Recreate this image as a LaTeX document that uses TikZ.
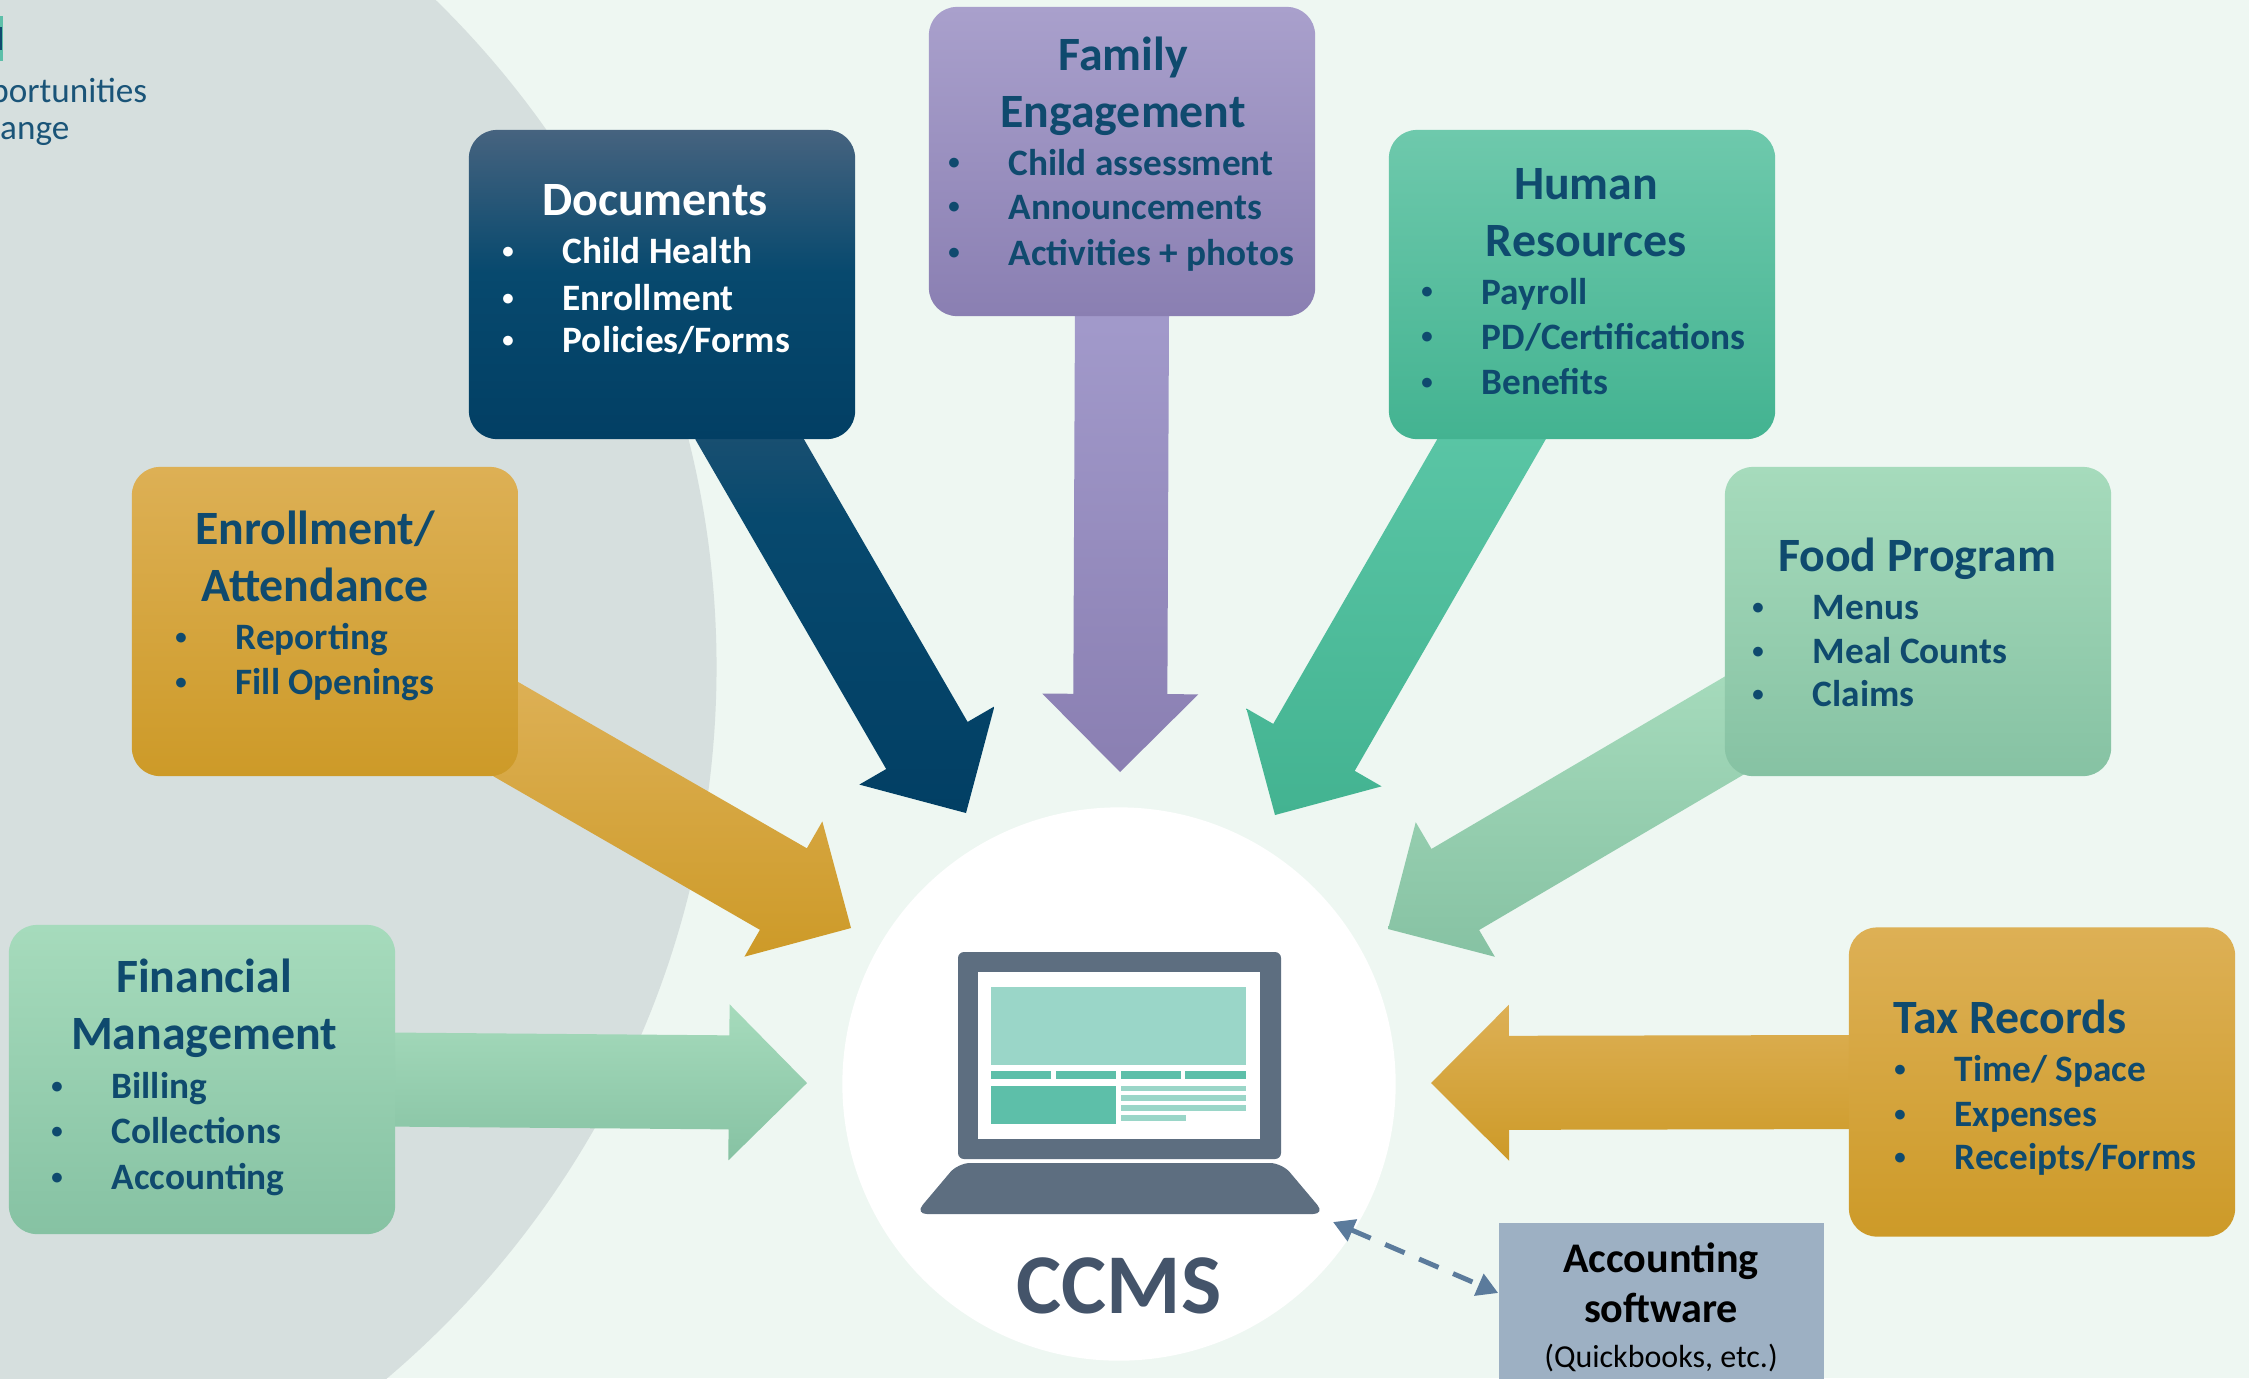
\documentclass[tikz,border=0pt]{standalone}
\usepackage{fontspec}
\setmainfont{Carlito}
\usetikzlibrary{calc,backgrounds,arrows.meta}

\definecolor{pagegreen}{HTML}{EEF7F2}
\definecolor{bigcircle}{HTML}{D6DFDE}
\definecolor{ink}{HTML}{0F4A6E}
\definecolor{logoink}{HTML}{1A5478}
\definecolor{laptop}{HTML}{5D6E80}
\definecolor{pale}{HTML}{9AD6C8}
\definecolor{teal}{HTML}{5DBFA9}
\definecolor{ccmsink}{HTML}{44546A}
\definecolor{acctfill}{HTML}{9DB0C3}
\definecolor{acctline}{HTML}{5B7B9C}
\definecolor{docstop}{HTML}{46637F}
\definecolor{docsmid}{HTML}{07496E}
\definecolor{docsbot}{HTML}{023F64}
\definecolor{docsarrowtop}{HTML}{225272}
\definecolor{familytop}{HTML}{A9A0CC}
\definecolor{familymid}{HTML}{9A90C4}
\definecolor{familybot}{HTML}{8A7FB2}
\definecolor{familyarrowtop}{HTML}{A29ACB}
\definecolor{humantop}{HTML}{6EC9AC}
\definecolor{humanmid}{HTML}{4FC3A0}
\definecolor{humanbot}{HTML}{43B391}
\definecolor{humanarrowtop}{HTML}{5CC7A7}
\definecolor{foodtop}{HTML}{A6DBBC}
\definecolor{foodmid}{HTML}{9AD3B2}
\definecolor{foodbot}{HTML}{86C2A3}
\definecolor{goldtop}{HTML}{DDB055}
\definecolor{goldmid}{HTML}{DFAB38}
\definecolor{goldbot}{HTML}{CD9A28}

% 25bp is the bottom of the shaded path, 75bp its top
\pgfdeclareverticalshading{docsbox}{100bp}{color(0bp)=(docsbot); color(25bp)=(docsbot); color(52bp)=(docsmid); color(75bp)=(docstop); color(100bp)=(docstop)}
\pgfdeclareverticalshading{docsarrow}{100bp}{color(0bp)=(docsbot); color(25bp)=(docsbot); color(60bp)=(docsmid); color(75bp)=(docsarrowtop); color(100bp)=(docsarrowtop)}

% block arrow from a tail to a tip, shaded by the style in #3
\newcommand{\blockarrow}[3]{%
  \coordinate (neck) at ($(#2)!.78cm!(#1)$);
  \path[#3] ($(#1)!.47cm!90:(#2)$) -- ($(neck)!.47cm!90:(#2)$) -- ($(neck)!.78cm!90:(#2)$)
    -- (#2) -- ($(neck)!.78cm!-90:(#2)$) -- ($(neck)!.47cm!-90:(#2)$) -- ($(#1)!.47cm!-90:(#2)$) -- cycle;
}
% one bulleted line of a box
\newcommand{\bulletline}[5][ink]{%
  \node[dotmark, text=#1] (#2dot) at (#3,#4) {\raisebox{1.45pt}{•}};
  \node[itemtext, text=#1] (#2) at ($(#2dot.base)+(54,0)$) {#5};
}

\begin{document}
\begin{tikzpicture}[
x=0.01cm, y=-0.01cm,
box/.style={rectangle, rounded corners=0.28cm, minimum width=3.86cm, minimum height=3.09cm, inner sep=0pt},
docsfill/.style={shading=docsbox},
familyfill/.style={top color=familytop, middle color=familymid, bottom color=familybot},
humanfill/.style={top color=humantop, middle color=humanmid, bottom color=humanbot},
foodfill/.style={top color=foodtop, middle color=foodmid, bottom color=foodbot},
goldfill/.style={top color=goldtop, middle color=goldmid, bottom color=goldbot},
title/.style={font=\fontsize{13.6}{16.2}\selectfont\bfseries, text=ink, anchor=base, align=center, inner sep=0pt, yshift=-0.015cm},
itemtext/.style={font=\fontsize{10.6}{13}\selectfont\bfseries, anchor=base west, inner sep=0pt},
dotmark/.style={font=\fontsize{6.5}{8}\selectfont\bfseries, anchor=base, inner sep=0pt, yshift=-0.015cm},
logotext/.style={font=\fontsize{10}{12}\selectfont, text=logoink, anchor=base east, inner sep=0pt},
]
\useasboundingbox (0,0) rectangle (2249,1378);

%Backdrop
\begin{scope}[on background layer]
\clip (0,0) rectangle (2249,1378);
\fill[pagegreen] (0,0) rectangle (2249,1378);
\fill[bigcircle] (-216,667) circle (9.32cm);
\node[circle, fill=white, minimum size=5.53cm, inner sep=0pt] (ccms) at (1119,1084) {};
\end{scope}

%Logo
\begin{scope}
\clip (0,0) rectangle (2249,1378);
\fill[teal] (0,16) rectangle (3,61);
\fill[ink] (0,27) rectangle (2,50);
\node[logotext] (logoa) at (148,102) {pportunities};
\node[logotext] (logob) at (70,139) {hange};
\end{scope}

%Boxes
\node[box, docsfill] (documents) at (662,284.5) {};
\node[box, familyfill] (family) at (1122,161.5) {};
\node[box, humanfill] (human) at (1582,284.5) {};
\node[box, foodfill] (food) at (1918,621.5) {};
\node[box, goldfill] (tax) at (2042,1082) {};
\node[box, goldfill] (enrollment) at (325,621.5) {};
\node[box, foodfill] (financial) at (202,1079.5) {};

%Documents
\node[title, text=white] (documentstitle) at (655,214) {Documents};
\bulletline[white]{childhealth}{508}{262}{Child Health}
\bulletline[white]{enroll}{508}{309}{Enrollment}
\bulletline[white]{policies}{508}{351}{Policies/Forms}

%Family
\node[title] (familytitle) at (1123,126) {Family\\Engagement};
\bulletline{childassess}{954}{173.5}{Child assessment}
\bulletline{announce}{954}{217.5}{Announcements}
\bulletline{activities}{954}{263.5}{Activities + photos}

%Human resources
\node[title] (humantitle) at (1586,255) {Human\\Resources};
\bulletline{payroll}{1427}{302.5}{Payroll}
\bulletline{certs}{1427}{347.5}{PD/Certifications}
\bulletline{benefits}{1427}{393}{Benefits}

%Food program
\node[title] (foodtitle) at (1917,570) {Food Program};
\bulletline{menus}{1758}{618}{Menus}
\bulletline{meals}{1758}{662}{Meal Counts}
\bulletline{claims}{1758}{705}{Claims}

%Tax records
\node[title] (taxtitle) at (2010,1032) {Tax Records};
\bulletline{timespace}{1900}{1080}{Time/ Space}
\bulletline{expenses}{1900}{1125}{Expenses}
\bulletline{receipts}{1900}{1168}{Receipts/Forms}

%Enrollment
\node[title] (enrollmenttitle) at (315,600) {Enrollment/\\Attendance};
\bulletline{reporting}{181}{648}{Reporting}
\bulletline{openings}{181}{693}{Fill Openings}

%Financial
\node[title] (financialtitle) at (204,1048) {Financial\\Management};
\bulletline{billing}{57}{1097}{Billing}
\bulletline{collections}{57}{1142}{Collections}
\bulletline{accounting}{57}{1188}{Accounting}

%Block arrows, under the boxes
\coordinate (docstail) at ($(documents.south)+(74,-24)$);
\coordinate (docstip) at (966,813);
\coordinate (familytail) at ($(family.south)+(0,-10)$);
\coordinate (familytip) at (1120,772);
\coordinate (humantail) at ($(human.south)+(-77,-24)$);
\coordinate (humantip) at (1275,815);
\coordinate (foodtail) at ($(food.west)+(39,87)$);
\coordinate (foodtip) at (1388,929);
\coordinate (taxtail) at ($(tax.west)+(10,0)$);
\coordinate (taxtip) at (1431,1083);
\coordinate (enrolltail) at ($(enrollment.east)+(-28,99)$);
\coordinate (enrolltip) at (851,928);
\coordinate (fintail) at ($(financial.east)+(-10,0)$);
\coordinate (fintip) at (807,1083);
\begin{scope}[on background layer]
\blockarrow{docstail}{docstip}{shading=docsarrow}
\blockarrow{familytail}{familytip}{top color=familyarrowtop, middle color=familymid, bottom color=familybot}
\blockarrow{humantail}{humantip}{top color=humanarrowtop, middle color=humanmid, bottom color=humanbot}
\blockarrow{foodtail}{foodtip}{foodfill}
\blockarrow{taxtail}{taxtip}{goldfill}
\blockarrow{enrolltail}{enrolltip}{goldfill}
\blockarrow{fintail}{fintip}{foodfill}
\end{scope}

%Laptop
\fill[laptop, rounded corners=0.06cm] (958,952) rectangle (1281,1159);
\fill[white] (978,972) rectangle (1260,1139);
\fill[pale] (991,987) rectangle (1246,1065);
\foreach \xa/\xb in {991/1051, 1056/1116, 1121/1181, 1185/1246}
  \fill[teal] (\xa,1071) rectangle (\xb,1079);
\fill[teal] (991,1086) rectangle (1116,1124);
\foreach \ya/\yb/\xb in {1086/1091/1246, 1095/1101/1246, 1105/1111/1246, 1115/1121/1186}
  \fill[pale] (1121,\ya) rectangle (\xb,\yb);
\fill[laptop, rounded corners=0.12cm] (958,1163) -- (1282,1163) -- (1325,1214) -- (915,1214) -- cycle;
\node[font=\fontsize{24.2}{28}\selectfont\bfseries, text=ccmsink, anchor=base, inner sep=0pt] (ccmstitle) at (1119,1313) {CCMS};

%Accounting software
\node[rectangle, fill=acctfill, minimum width=3.25cm, minimum height=1.56cm, inner sep=0pt] (software) at (1661.5,1301) {};
\node[font=\fontsize{12}{14.2}\selectfont\bfseries, anchor=base, align=center, inner sep=0pt] (softwaretitle) at (1661,1322) {Accounting\\software};
\node[font=\fontsize{9.1}{11}\selectfont, anchor=base, inner sep=0pt] (softwarenote) at (1661,1367) {(Quickbooks, etc.)};
\coordinate (ccmsport) at (1333,1222);
\draw[acctline, line width=1.4pt, dash pattern=on 6pt off 4.5pt, {Triangle[length=6pt,width=6.5pt]}-{Triangle[length=6pt,width=6.5pt]}] (ccmsport) -- ([yshift=0.08cm]software.west);
\end{tikzpicture}
\end{document}
